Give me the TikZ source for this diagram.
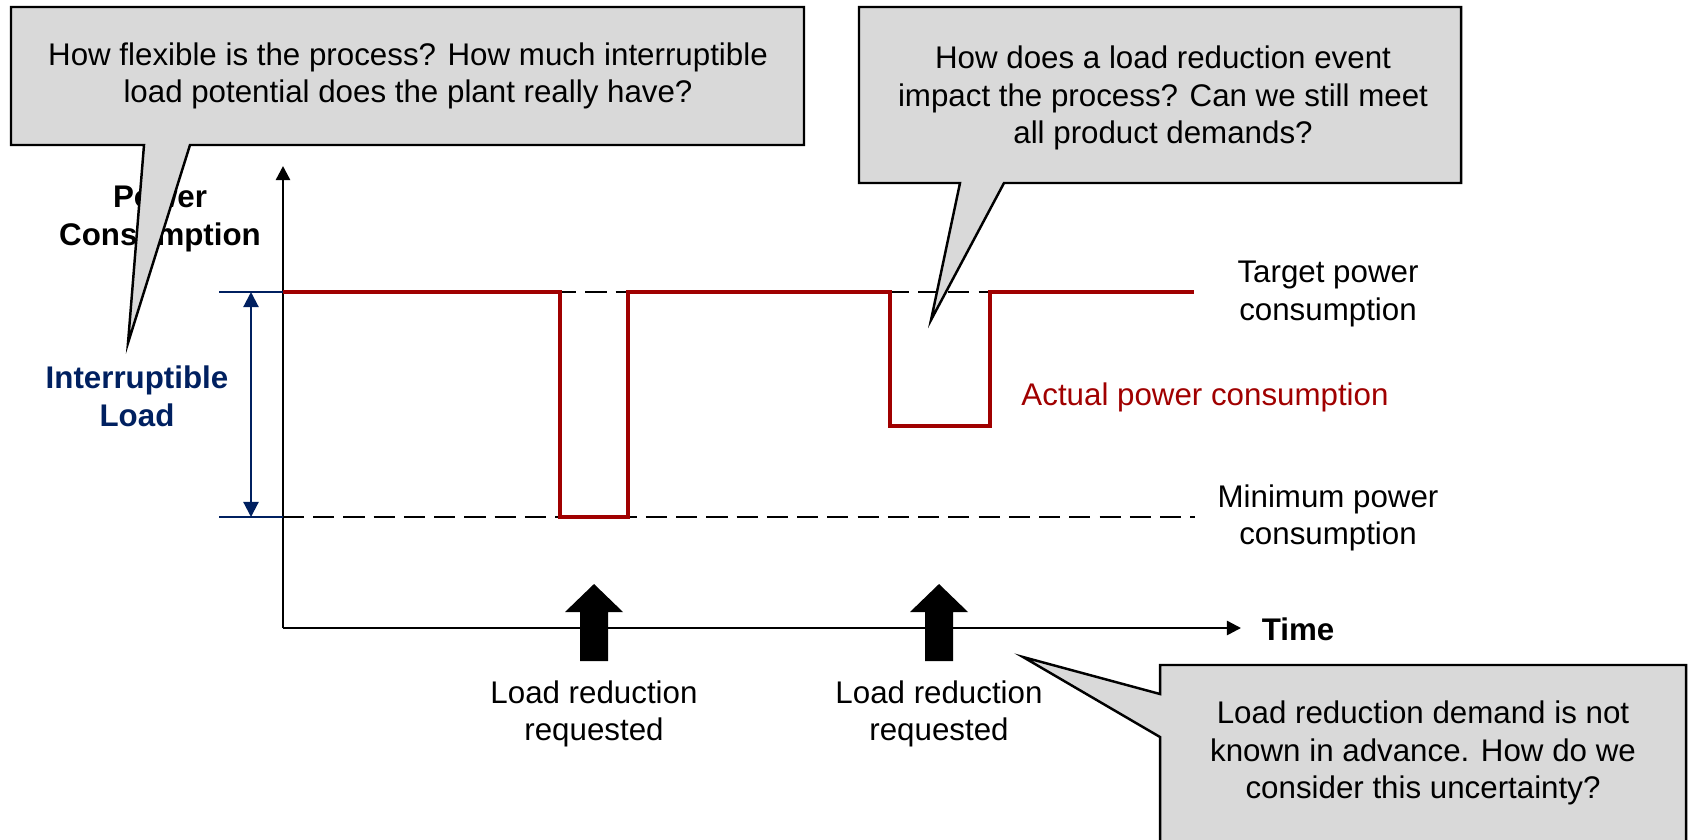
\documentclass[tikz,border=0pt]{standalone}
\usepackage{fontspec}
\setmainfont{Liberation Sans}
\usetikzlibrary{arrows.meta}
\definecolor{demandred}{RGB}{160,0,0}
\definecolor{loadnavy}{RGB}{0,32,96}
\definecolor{calloutgray}{RGB}{217,217,217}

\begin{document}
\begin{tikzpicture}[x=0.01cm,y=-0.01cm]
\tikzset{
  txt/.style={align=center,inner sep=0pt,font=\fontsize{8.9}{10.7}\selectfont},
  boldtxt/.style={txt,font=\fontsize{8.9}{10.7}\selectfont\bfseries},
  callout/.style={draw,line width=0.7pt,fill=calloutgray,line join=miter},
  axis/.style={-{Triangle[length=4pt,width=4pt]},line width=0.7pt},
  level/.style={line width=0.7pt,dash pattern=on 6pt off 2.6pt},
  demand/.style={demandred,line width=1.15pt},
  bracket/.style={loadnavy,line width=0.6pt},
  blockarrow/.style={fill=black}
}
\useasboundingbox (0,0) rectangle (1692,839);
\coordinate (o) at (283,628);
\coordinate (y_end) at (283,166);
\coordinate (x_end) at (1241,628);
\coordinate (top_l) at (219,292);
\coordinate (top_r) at (283,292);
\coordinate (min_l) at (219,517);
\coordinate (min_r) at (283,517);
\coordinate (top_end) at (1194,292);
\coordinate (min_end) at (1195,517);
% axes
\draw[axis] (o) -- (y_end);
\draw[axis] (o) -- (x_end);
\node[boldtxt] (n_time) at (1298,629) {Time};
\node[boldtxt] (n_power) at (160,219) {Power\\Consumption};
% target and minimum levels
\draw[level] (top_r) -- (top_end);
\draw[level] (min_r) -- (min_end);
\draw[demand] (top_r) -- (560,292) -- (560,517) -- (628,517) -- (628,292) -- (890,292)
  -- (890,426) -- (990,426) -- (990,292) -- (top_end);
\node[txt] (n_target) at (1328,294) {Target power\\consumption};
\node[txt] (n_minimum) at (1328,518) {Minimum power\\consumption};
\node[txt,text=demandred] (n_actual) at (1205,397) {Actual power consumption};
% interruptible load
\draw[bracket] (top_l) -- (top_r);
\draw[bracket] (min_l) -- (min_r);
\draw[bracket,{Triangle[length=4.3pt,width=4.3pt]}-{Triangle[length=4.3pt,width=4.3pt]}] (251,292) -- (251,517);
\node[boldtxt,text=loadnavy] (n_load) at (137,396) {Interruptible\\Load};
% load reduction requests
\fill[blockarrow] (594,584) -- (623,612) -- (608,612) -- (608,661) -- (580,661) -- (580,612) -- (565,612) -- cycle;
\fill[blockarrow] (939,584) -- (968,612) -- (953,612) -- (953,661) -- (925,661) -- (925,612) -- (910,612) -- cycle;
\node[txt] (n_req_1) at (594,714) {Load reduction\\requested};
\node[txt] (n_req_2) at (939,714) {Load reduction\\requested};
% callouts
\draw[callout] (11,7) -- (804,7) -- (804,145) -- (190,145) -- (128,343) -- (144,145) -- (11,145) -- cycle;
\node[txt] (n_flex) at (408,76) {How flexible is the process? How much interruptible\\load potential does the plant really have?};
\draw[callout] (859,7) -- (1461,7) -- (1461,183) -- (1004,183) -- (931,320) -- (960,183) -- (859,183) -- cycle;
\node[txt] (n_impact) at (1163,98) {How does a load reduction event\\impact the process? Can we still meet\\all product demands?};
\draw[callout] (1160,665) -- (1686,665) -- (1686,860) -- (1160,860) -- (1160,737) -- (1023,657) -- (1160,694) -- cycle;
\node[txt] (n_uncert) at (1423,753) {Load reduction demand is not\\known in advance. How do we\\consider this uncertainty?};
\end{tikzpicture}
\end{document}
